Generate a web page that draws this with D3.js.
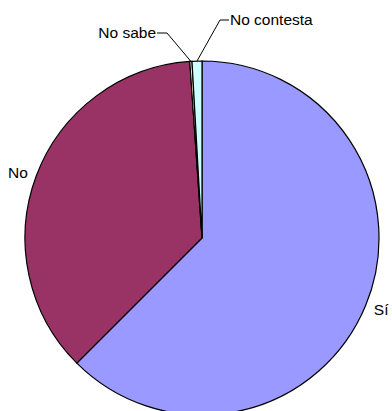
<!DOCTYPE html>
<html><head><meta charset="utf-8">
<script src="https://cdn.jsdelivr.net/npm/d3@7"></script>
<style>html,body{margin:0;padding:0;background:#fff;}svg{display:block;}</style>
</head><body>
<svg id="chart" width="392" height="411"></svg>
<script>
const categories = ["Sí", "No", "No sabe", "No contesta"];
const values = [62.5, 36.4, 0.2, 0.9];
const colors = ["#9999FF", "#993366", "#FFFFCC", "#CCFFFF"];

const svg = d3.select("#chart");
const cx = 202, cy = 238, r = 177;
const g = svg.append("g").attr("transform", `translate(${cx},${cy})`);

const pie = d3.pie().sort(null).value(d => d.v);
const arcs = pie(categories.map((c, i) => ({c, v: values[i], col: colors[i]})));
const arc = d3.arc().innerRadius(0).outerRadius(r);

g.selectAll("path.slice").data(arcs).enter().append("path")
  .attr("class", "slice")
  .attr("d", arc)
  .attr("fill", d => d.data.col)
  .attr("stroke", "#000")
  .attr("stroke-width", 1.2)
  .attr("stroke-linejoin", "miter");

const font = "Liberation Sans, Arial, sans-serif";
const fs = 15.5;
const mid = d => (d.startAngle + d.endAngle) / 2;
const pt = (a, R) => [Math.sin(a) * R, -Math.cos(a) * R];

// Large slices: labels placed outside along mid-angle
arcs.slice(0, 2).forEach(d => {
  const a = mid(d);
  const [x, y] = pt(a, 186);
  g.append("text")
    .attr("x", x).attr("y", y)
    .attr("dy", "0.35em")
    .attr("text-anchor", Math.sin(a) > 0 ? "start" : "end")
    .attr("font-family", font).attr("font-size", fs)
    .attr("fill", "#000")
    .text(d.data.c);
});

// Small slices: labels with leader lines
const small = [
  {d: arcs[2], elbow: [167 - cx, 33 - cy], end: [157 - cx, 33 - cy], anchor: "end", tx: 156 - cx, ty: 38 - cy},
  {d: arcs[3], elbow: [220 - cx, 20 - cy], end: [229 - cx, 20 - cy], anchor: "start", tx: 230 - cx, ty: 25 - cy}
];
small.forEach(s => {
  const p0 = pt(mid(s.d), r);
  g.append("polyline")
    .attr("points", [p0, s.elbow, s.end].map(p => p.join(",")).join(" "))
    .attr("fill", "none").attr("stroke", "#000").attr("stroke-width", 1);
  g.append("text")
    .attr("x", s.tx).attr("y", s.ty)
    .attr("text-anchor", s.anchor)
    .attr("font-family", font).attr("font-size", fs)
    .attr("fill", "#000")
    .text(s.d.data.c);
});
</script>
</body></html>
